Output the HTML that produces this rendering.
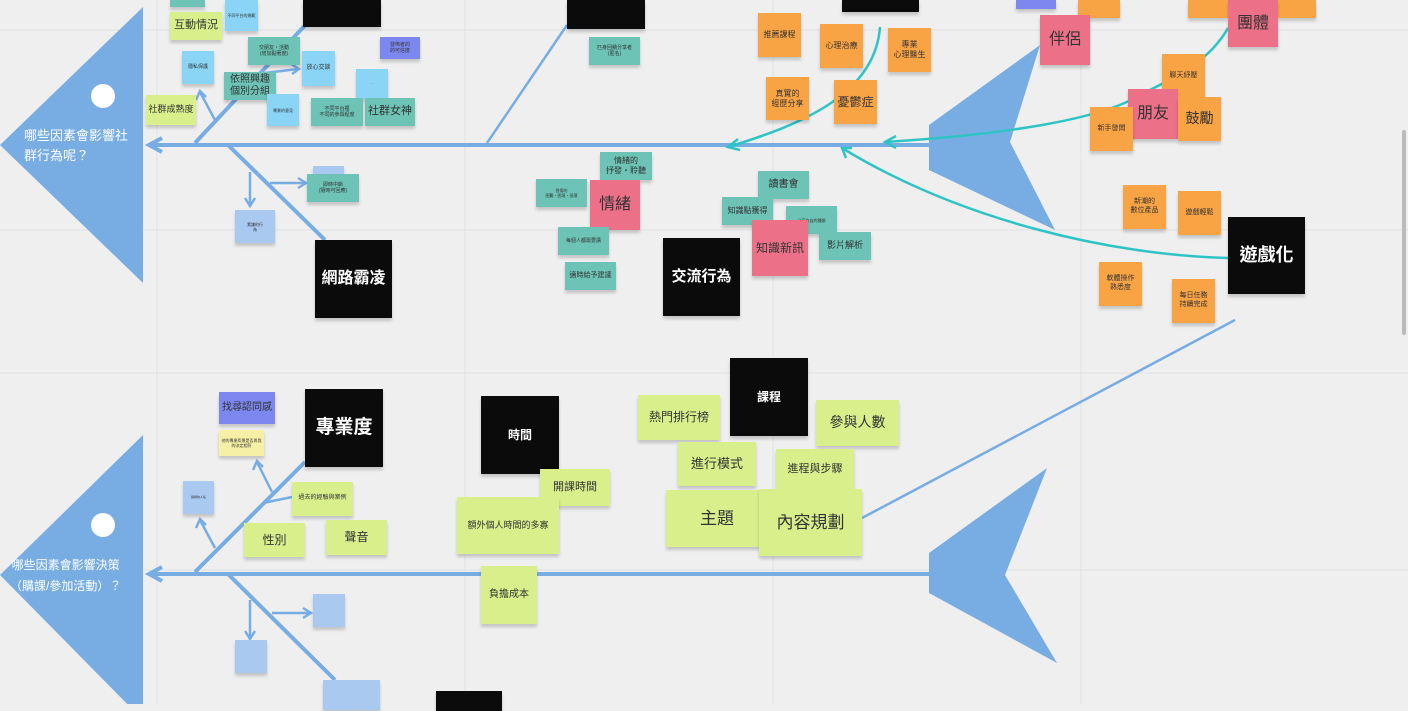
<!DOCTYPE html>
<html><head><meta charset="utf-8"><style>
body{margin:0;width:1408px;height:704px;overflow:hidden;background:#efefef;font-family:"Liberation Sans","Noto Sans CJK TC",sans-serif;position:relative}
.s{position:absolute;display:flex;align-items:center;justify-content:center;text-align:center;line-height:1.25;color:#333;box-shadow:0 3px 3px rgba(0,0,0,.18);box-sizing:border-box;padding:1px}
.t{background:#6cc3b6}.b{background:#8ad4f6}.lb{background:#a9c9f1}.l{background:#d9ef8c}.o{background:#f9a444}.p{background:#ec7087}.k{background:#0b0b0b;color:#fff;font-weight:bold}.u{background:#7c87ef}.y{background:#f6f0a6}
</style></head><body>
<svg width="1408" height="704" style="position:absolute;left:0;top:0">
<g stroke="#e2e2e2" stroke-width="1">
<line x1="157" y1="0" x2="157" y2="704"/><line x1="465" y1="0" x2="465" y2="704"/><line x1="773" y1="0" x2="773" y2="704"/><line x1="1081" y1="0" x2="1081" y2="704"/>
<line x1="0" y1="30" x2="1408" y2="30"/><line x1="0" y1="230" x2="1408" y2="230"/><line x1="0" y1="373" x2="1408" y2="373"/><line x1="0" y1="570" x2="1408" y2="570"/>
</g>
<polygon points="0,145 143,7 143,283" fill="#77ade3"/>
<circle cx="103" cy="96" r="12" fill="#fff"/>
<polygon points="0,575 143,435 143,720" fill="#77ade3"/>
<circle cx="103" cy="525" r="12" fill="#fff"/>
<polygon points="929,125 1040,45 1010,142 1055,230 929,170" fill="#77ade3"/>
<polygon points="929,553 1047,468 1005,575 1057,663 929,593" fill="#77ade3"/>
<g stroke="#77ade3" stroke-width="4" fill="none">
<line x1="150" y1="145" x2="929" y2="145"/><polyline points="162,138 149,145 162,152"/>
<line x1="150" y1="574" x2="929" y2="574"/><polyline points="162,567 149,574 162,581"/>
<line x1="195" y1="143" x2="310" y2="20"/>
<line x1="228" y1="145" x2="325" y2="240"/>
<line x1="195" y1="572" x2="305" y2="462"/>
<line x1="228" y1="574" x2="335" y2="680"/>
</g>
<g stroke="#77ade3" stroke-width="2.5" fill="none">
<line x1="487" y1="143" x2="567" y2="25"/>
<line x1="862" y1="518" x2="1235" y2="320"/>
<line x1="215" y1="120" x2="200" y2="92"/><polyline points="196,100 200,91 206,97"/>
<line x1="250" y1="172" x2="250" y2="205"/><polyline points="245,198 250,206 255,198"/>
<line x1="270" y1="183" x2="305" y2="183"/><polyline points="298,178 306,183 298,188"/>
<line x1="265" y1="73" x2="298" y2="69"/><polyline points="291,64 299,69 292,74"/>
<line x1="215" y1="548" x2="200" y2="520"/><polyline points="196,528 200,519 206,525"/>
<line x1="272" y1="492" x2="257" y2="462"/><polyline points="253,470 257,461 263,467"/>
<line x1="263" y1="503" x2="292" y2="497"/>
<line x1="250" y1="600" x2="250" y2="638"/><polyline points="245,631 250,639 255,631"/>
<line x1="272" y1="613" x2="310" y2="613"/><polyline points="303,608 311,613 303,618"/>
</g>
<g stroke="#2ec4c6" stroke-width="2.5" fill="none">
<path d="M880,27 C875,95 800,125 728,147"/><polyline points="738,139 728,147 740,150"/>
<path d="M1228,28 C1210,60 1180,75 1140,95 C1100,120 1000,135 885,142"/><polyline points="896,136 885,142 896,148"/>
<path d="M1228,258 C1110,255 960,220 842,148"/><polyline points="852,148 842,148 846,158"/>
</g>
<rect x="1402" y="130" width="4" height="205" rx="2" fill="#bbb"/>
</svg>
<div style="position:absolute;left:24px;top:126px;color:#fff;font-size:13px;line-height:20px">哪些因素會影響社<br>群行為呢？</div>
<div style="position:absolute;left:10px;top:555px;color:#fff;font-size:12px;line-height:21px;text-align:center">哪些因素會影響決策<br>（購課/參加活動）？</div>

<div class="s t" style="left:170px;top:0;width:35px;height:7px"></div>
<div class="s l" style="left:170px;top:12px;width:52px;height:28px;font-size:11px">互動情況</div>
<div class="s b" style="left:225px;top:0;width:33px;height:31px;font-size:4px">不同平台的規範</div>
<div class="s k" style="left:303px;top:0;width:78px;height:27px"></div>
<div class="s b" style="left:182px;top:51px;width:32px;height:33px;font-size:5px">隱私保護</div>
<div class="s t" style="left:248px;top:37px;width:52px;height:28px;font-size:5px">交朋友・活動<br>(增加黏著度)</div>
<div class="s b" style="left:302px;top:51px;width:33px;height:35px;font-size:6px">放心交談</div>
<div class="s u" style="left:380px;top:37px;width:40px;height:22px;font-size:5px">發佈者的<br>的可信度</div>
<div class="s b" style="left:356px;top:69px;width:32px;height:30px;font-size:3px">…</div>
<div class="s t" style="left:224px;top:72px;width:52px;height:28px;font-size:10px">依照興趣<br>個別分組</div>
<div class="s l" style="left:146px;top:95px;width:50px;height:30px;font-size:9px">社群成熟度</div>
<div class="s b" style="left:267px;top:94px;width:32px;height:32px;font-size:4px">專業的意見</div>
<div class="s t" style="left:311px;top:98px;width:52px;height:28px;font-size:5px">不同平台裡<br>不同的參與程度</div>
<div class="s t" style="left:365px;top:98px;width:50px;height:28px;font-size:11px">社群女神</div>
<div class="s lb" style="left:313px;top:166px;width:31px;height:10px"></div>
<div class="s t" style="left:307px;top:174px;width:52px;height:28px;font-size:5px">即時中斷<br>(隨時可回應)</div>
<div class="s lb" style="left:235px;top:210px;width:40px;height:33px;font-size:4px">素謙的行<br>為</div>
<div class="s k" style="left:315px;top:240px;width:77px;height:78px;font-size:16px">網路霸凌</div>

<div class="s k" style="left:567px;top:0;width:78px;height:29px"></div>
<div class="s t" style="left:589px;top:37px;width:51px;height:28px;font-size:5px">匹身回饋分享者<br>(匿名)</div>
<div class="s o" style="left:758px;top:13px;width:43px;height:44px;font-size:8px">推薦課程</div>
<div class="s o" style="left:820px;top:24px;width:43px;height:44px;font-size:8px">心理治療</div>
<div class="s o" style="left:888px;top:28px;width:43px;height:44px;font-size:8px">專業<br>心理醫生</div>
<div class="s o" style="left:766px;top:77px;width:43px;height:43px;font-size:8px">真實的<br>經歷分享</div>
<div class="s o" style="left:834px;top:80px;width:43px;height:44px;font-size:12px">憂鬱症</div>
<div class="s k" style="left:842px;top:0;width:77px;height:12px"></div>
<div class="s t" style="left:600px;top:152px;width:52px;height:28px;font-size:8px">情緒的<br>抒發・聆聽</div>
<div class="s t" style="left:536px;top:179px;width:51px;height:28px;font-size:4px">覺傷的<br>困難・困境・低落</div>
<div class="s p" style="left:590px;top:180px;width:50px;height:50px;font-size:16px">情緒</div>
<div class="s t" style="left:558px;top:227px;width:51px;height:28px;font-size:5px">每個人都需要講</div>
<div class="s t" style="left:565px;top:262px;width:51px;height:28px;font-size:7px">適時給予建議</div>
<div class="s t" style="left:758px;top:171px;width:51px;height:28px;font-size:10px">讀書會</div>
<div class="s t" style="left:722px;top:197px;width:51px;height:28px;font-size:8px">知識點獲得</div>
<div class="s t" style="left:786px;top:206px;width:51px;height:28px;font-size:4px">分享各自的種類</div>
<div class="s p" style="left:752px;top:220px;width:56px;height:56px;font-size:12px">知識新訊</div>
<div class="s t" style="left:819px;top:232px;width:52px;height:28px;font-size:9px">影片解析</div>
<div class="s k" style="left:663px;top:238px;width:77px;height:78px;font-size:15px">交流行為</div>

<div class="s u" style="left:1016px;top:0;width:40px;height:9px"></div>
<div class="s o" style="left:1078px;top:0;width:42px;height:18px"></div>
<div class="s o" style="left:1188px;top:0;width:40px;height:18px"></div>
<div class="s o" style="left:1278px;top:0;width:38px;height:18px"></div>
<div class="s p" style="left:1040px;top:15px;width:50px;height:50px;font-size:16px">伴侶</div>
<div class="s p" style="left:1228px;top:0;width:50px;height:47px;font-size:16px">團體</div>
<div class="s o" style="left:1162px;top:54px;width:43px;height:44px;font-size:7px">聊天紓壓</div>
<div class="s p" style="left:1128px;top:89px;width:50px;height:50px;font-size:16px">朋友</div>
<div class="s o" style="left:1090px;top:107px;width:43px;height:44px;font-size:7px">新手發問</div>
<div class="s o" style="left:1178px;top:97px;width:43px;height:44px;font-size:14px">鼓勵</div>
<div class="s o" style="left:1123px;top:185px;width:43px;height:44px;font-size:7px">新潮的<br>數位產品</div>
<div class="s o" style="left:1178px;top:191px;width:43px;height:44px;font-size:7px">遊戲輕鬆</div>
<div class="s k" style="left:1228px;top:217px;width:77px;height:77px;font-size:18px">遊戲化</div>
<div class="s o" style="left:1099px;top:262px;width:43px;height:44px;font-size:7px">軟體操作<br>熟悉度</div>
<div class="s o" style="left:1172px;top:279px;width:43px;height:44px;font-size:7px">每日任務<br>持續完成</div>

<div class="s u" style="left:219px;top:392px;width:56px;height:32px;font-size:10px">找尋認同感</div>
<div class="s y" style="left:219px;top:430px;width:45px;height:26px;font-size:4px">他的專業背景是否與我的決定相符</div>
<div class="s k" style="left:305px;top:389px;width:78px;height:78px;font-size:19px">專業度</div>
<div class="s lb" style="left:183px;top:481px;width:31px;height:33px;font-size:3px">講師的人氣</div>
<div class="s l" style="left:292px;top:482px;width:61px;height:34px;font-size:6px">過去的經驗與案例</div>
<div class="s l" style="left:244px;top:523px;width:61px;height:34px;font-size:12px">性別</div>
<div class="s l" style="left:326px;top:520px;width:61px;height:35px;font-size:12px">聲音</div>
<div class="s k" style="left:481px;top:396px;width:78px;height:78px;font-size:12px">時間</div>
<div class="s l" style="left:540px;top:469px;width:70px;height:37px;font-size:11px">開課時間</div>
<div class="s l" style="left:457px;top:497px;width:102px;height:57px;font-size:9px">額外個人時間的多寡</div>
<div class="s l" style="left:481px;top:566px;width:56px;height:58px;font-size:10px">負擔成本</div>
<div class="s l" style="left:638px;top:395px;width:82px;height:45px;font-size:12px">熱門排行榜</div>
<div class="s k" style="left:730px;top:358px;width:78px;height:78px;font-size:12px">課程</div>
<div class="s l" style="left:816px;top:400px;width:83px;height:46px;font-size:14px">參與人數</div>
<div class="s l" style="left:678px;top:442px;width:78px;height:44px;font-size:13px">進行模式</div>
<div class="s l" style="left:776px;top:449px;width:78px;height:42px;font-size:11px">進程與步驟</div>
<div class="s l" style="left:666px;top:490px;width:102px;height:57px;font-size:17px">主題</div>
<div class="s l" style="left:759px;top:489px;width:103px;height:67px;font-size:17px">內容規劃</div>
<div class="s lb" style="left:313px;top:594px;width:32px;height:33px"></div>
<div class="s lb" style="left:235px;top:640px;width:32px;height:33px"></div>
<div class="s lb" style="left:323px;top:680px;width:57px;height:30px"></div>
<div class="s k" style="left:436px;top:691px;width:66px;height:20px"></div>
</body></html>
